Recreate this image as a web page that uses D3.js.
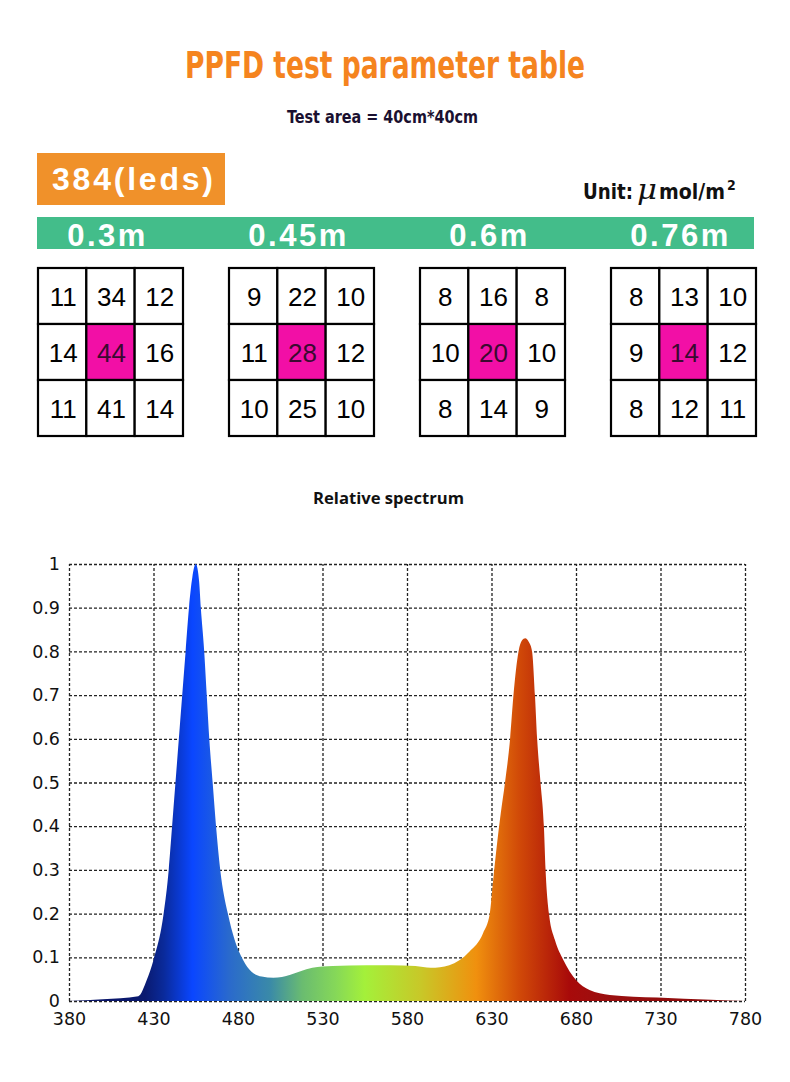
<!DOCTYPE html>
<html>
<head>
<meta charset="utf-8">
<script src="https://cdnjs.cloudflare.com/ajax/libs/d3/7.8.5/d3.min.js"></script>
<style>
  body { margin: 0; background: #fff; }
  svg { display: block; }
  .narrow { font-family: "Liberation Sans Narrow", "DejaVu Sans Condensed", "Roboto", sans-serif; font-weight: bold; }
</style>
</head>
<body>
<div id="chart"></div>
<script>
// set the dimensions of the page
var width = 790
    height = 1082

// heights the light was tested at
var heights = ['0.3m', '0.45m', '0.6m', '0.76m'];

// ppfd readings, 3x3 grid per height, row by row
var ppfd03 = [11, 34, 12, 14, 44, 16, 11, 41, 14];
var ppfd045 = [9, 22, 10, 11, 28, 12, 10, 25, 10];
var ppfd06 = [8, 16, 8, 10, 20, 10, 8, 14, 9];
var ppfd076 = [8, 13, 10, 9, 14, 12, 8, 12, 11];

// relative spectrum
var wavelengths = [380, 400, 421, 426, 430, 436, 439, 441, 443, 445, 447, 449, 451, 453, 455, 457, 458, 460, 461.5, 463, 465, 467, 469.5, 474, 478, 483, 488, 494, 501, 511, 517, 524, 536, 556, 570, 585, 594, 605, 617, 625, 629, 631, 633, 635.5, 638, 641, 643, 646, 648, 650, 652, 654, 655.7, 657, 659, 661, 662, 664, 667.5, 672.5, 680, 688, 700, 728, 760, 780];
var intensity = [0, 0.004, 0.011, 0.048, 0.094, 0.2, 0.3, 0.4, 0.5, 0.6, 0.7, 0.8, 0.9, 0.97, 1.0, 0.96, 0.9, 0.8, 0.7, 0.6, 0.5, 0.4, 0.3, 0.2, 0.14, 0.094, 0.067, 0.056, 0.053, 0.06, 0.068, 0.076, 0.08, 0.082, 0.082, 0.08, 0.076, 0.082, 0.113, 0.155, 0.2, 0.277, 0.35, 0.43, 0.5, 0.6, 0.7, 0.8, 0.825, 0.83, 0.822, 0.8, 0.7, 0.6, 0.5, 0.4, 0.3, 0.2, 0.14, 0.094, 0.048, 0.025, 0.014, 0.008, 0.003, 0];

// tick labels
var xTicks = [380, 430, 480, 530, 580, 630, 680, 730, 780];
var yTicks = [0, 0.1, 0.2, 0.3, 0.4, 0.5, 0.6, 0.7, 0.8, 0.9, 1];

var grids = [ppfd03, ppfd045, ppfd06, ppfd076];

// colours of the spectrum fill (wavelength -> colour)
var gradStops = [
  [380, '#0a1466'], [425, '#0a1a70'], [436, '#0a2a9a'], [453, '#0a46ff'],
  [475, '#2a6acc'], [499, '#3a8aa8'], [518, '#6abc70'], [538, '#86d858'],
  [555, '#a4f03a'], [588, '#c8c828'], [621, '#f0900e'], [647, '#d04808'],
  [676, '#a80a0a'], [700, '#9a1010'], [780, '#8a0a0a']
];

var svg = d3.select('#chart')
    .append('svg')
    .attr('width', width)
    .attr('height', height);

svg.append('rect').attr('width', width).attr('height', height).attr('fill', '#fff');

// ---- header ----
// the original uses a condensed face, so squeeze the text to its width
svg.append('text')
    .attr('class', 'narrow')
    .attr('x', 185).attr('y', 78)
    .attr('textLength', 400).attr('lengthAdjust', 'spacingAndGlyphs')
    .style('font-size', '38px')
    .attr('fill', '#f5841f')
    .text('PPFD test parameter table');

svg.append('text')
    .attr('class', 'narrow')
    .attr('x', 287).attr('y', 123)
    .attr('textLength', 191).attr('lengthAdjust', 'spacingAndGlyphs')
    .style('font-size', '17px')
    .attr('fill', '#1a1030')
    .text('Test area = 40cm*40cm');

svg.append('rect')
    .attr('x', 37).attr('y', 153).attr('width', 188).attr('height', 52)
    .attr('fill', '#f0912a');
svg.append('text')
    .attr('x', 52).attr('y', 190)
    .attr('textLength', 161).attr('lengthAdjust', 'spacing')
    .style('font-family', '"Liberation Sans", Arial, sans-serif')
    .style('font-weight', 'bold')
    .style('font-size', '32px')
    .attr('fill', '#fff')
    .text('384(leds)');

// unit label, built from pieces so the mu and the superscript sit right
svg.append('text')
    .attr('class', 'narrow')
    .attr('x', 583).attr('y', 199)
    .attr('textLength', 50).attr('lengthAdjust', 'spacingAndGlyphs')
    .style('font-size', '22px')
    .attr('fill', '#111')
    .text('Unit:');
svg.append('text')
    .attr('x', 637).attr('y', 199)
    .attr('textLength', 20).attr('lengthAdjust', 'spacingAndGlyphs')
    .style('font-family', '"DejaVu Serif", serif')
    .style('font-style', 'italic')
    .style('font-size', '27px')
    .attr('fill', '#111')
    .text('\u03bc');
svg.append('text')
    .attr('class', 'narrow')
    .attr('x', 659).attr('y', 199)
    .attr('textLength', 66).attr('lengthAdjust', 'spacingAndGlyphs')
    .style('font-size', '22px')
    .attr('fill', '#111')
    .text('mol/m');
svg.append('text')
    .attr('class', 'narrow')
    .attr('x', 727).attr('y', 190)
    .style('font-size', '14px')
    .attr('fill', '#111')
    .text('2');

svg.append('rect')
    .attr('x', 37).attr('y', 217).attr('width', 717).attr('height', 32)
    .attr('fill', '#43bd8a');

// group positions for the four grids
var xGroup = d3.scaleBand()
    .domain(heights)
    .range([38, 756])
    .paddingInner(46 / 191);

var cell = d3.scaleBand().domain([0, 1, 2]).range([0, xGroup.bandwidth()]);
var row = d3.scaleBand().domain([0, 1, 2]).range([268, 436]);

svg.selectAll('.hlabel')
    .data(heights)
    .enter()
    .append('text')
    .attr('class', 'hlabel')
    .attr('x', function(d){ return xGroup(d) + xGroup.bandwidth() / 2 - 3; })
    .attr('y', 246)
    .attr('text-anchor', 'middle')
    .style('font-family', '"Liberation Sans", Arial, sans-serif')
    .style('font-weight', 'bold')
    .style('font-size', '31px')
    .style('letter-spacing', '2.5px')
    .attr('fill', '#fff')
    .text(function(d){ return d; });

// the 3x3 grids
var g = svg.selectAll('.grid')
    .data(grids)
    .enter()
    .append('g')
    .attr('class', 'grid')
    .attr('transform', function(d, i){ return 'translate(' + xGroup(heights[i]) + ',0)'; });

g.selectAll('rect')
    .data(function(d){ return d; })
    .enter()
    .append('rect')
    .attr('x', function(d, i){ return cell(i % 3); })
    .attr('y', function(d, i){ return row(Math.floor(i / 3)); })
    .attr('width', cell.bandwidth())
    .attr('height', row.bandwidth())
    .attr('fill', function(d, i){ return i === 4 ? '#f20fa6' : '#fff'; })
    .attr('stroke', '#000')
    .style('stroke-width', '2.2px');

g.selectAll('text')
    .data(function(d){ return d; })
    .enter()
    .append('text')
    .attr('x', function(d, i){ return cell(i % 3) + cell.bandwidth() / 2 + 1; })
    .attr('y', function(d, i){ return row(Math.floor(i / 3)) + row.bandwidth() / 2 + 10; })
    .attr('text-anchor', 'middle')
    .style('font-family', '"Liberation Sans", Arial, sans-serif')
    .style('font-size', '26px')
    .attr('fill', function(d, i){ return i === 4 ? '#3a0a30' : '#000'; })
    .text(function(d){ return d; });

// ---- spectrum ----
svg.append('text')
    .attr('x', 313).attr('y', 504)
    .attr('textLength', 151).attr('lengthAdjust', 'spacingAndGlyphs')
    .style('font-family', '"Open Sans", sans-serif')
    .style('font-weight', 'bold')
    .style('font-size', '16px')
    .attr('fill', '#111')
    .text('Relative spectrum');

var x = d3.scaleLinear().domain([380, 780]).range([69, 745]);
var y = d3.scaleLinear().domain([0, 1]).range([1001, 564]);

var defs = svg.append('defs');
var grad = defs.append('linearGradient')
    .attr('id', 'spec')
    .attr('gradientUnits', 'userSpaceOnUse')
    .attr('x1', x(380)).attr('x2', x(780))
    .attr('y1', 0).attr('y2', 0);
grad.selectAll('stop')
    .data(gradStops)
    .enter()
    .append('stop')
    .attr('offset', function(d){ return (d[0] - 380) / 400; })
    .attr('stop-color', function(d){ return d[1]; });

var yAxis = svg.append('g')
    .attr('transform', 'translate(' + x(380) + ',0)')
    .call(d3.axisLeft(y).tickValues(yTicks).tickSize(-(x(780) - x(380))).tickPadding(9).tickFormat(d3.format('~g')));
var xAxis = svg.append('g')
    .attr('transform', 'translate(0,' + y(0) + ')')
    .call(d3.axisBottom(x).tickValues(xTicks).tickSize(-(y(0) - y(1))).tickPadding(12));

[xAxis, yAxis].forEach(function(a){
    a.select('.domain').remove();
    a.selectAll('line')
        .attr('stroke', '#222')
        .style('stroke-width', '1.3px')
        .style('stroke-dasharray', '3,2');
    a.selectAll('text')
        .style('font-family', '"DejaVu Sans", sans-serif')
        .style('font-size', '17.5px')
        .attr('fill', '#111');
});

var spectrum = wavelengths.map(function(w, i){ return {w: w, v: intensity[i]}; });

var area = d3.area()
    .x(function(d){ return x(d.w); })
    .y0(y(0))
    .y1(function(d){ return y(d.v); })
    .curve(d3.curveMonotoneX);

svg.append('path')
    .datum(spectrum)
    .attr('d', area)
    .attr('fill', 'url(#spec)');
</script>
</body>
</html>
